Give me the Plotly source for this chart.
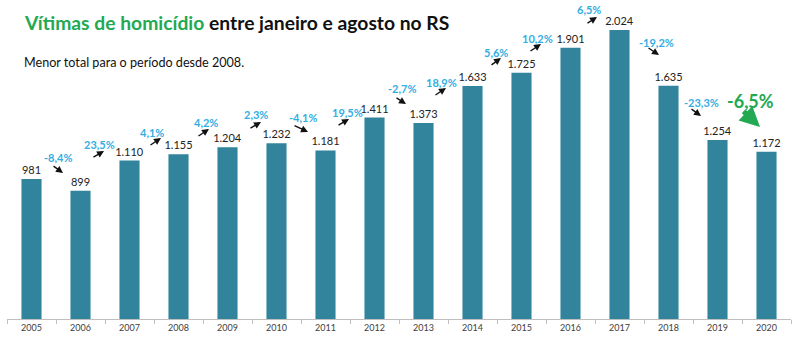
import plotly.graph_objects as go

# ---- data ----
years = [str(y) for y in range(2005, 2021)]
victims = [981, 899, 1110, 1155, 1204, 1232, 1181, 1411, 1373, 1633, 1725, 1901, 2024, 1635, 1254, 1172]

title_green = "Vítimas de homicídio"
title_rest = " entre janeiro e agosto no RS"
subtitle = "Menor total para o período desde 2008."

# year-over-year changes (computed from the values)
changes = [(victims[i + 1] / victims[i] - 1) * 100 for i in range(len(victims) - 1)]
change_labels = [f"{c:.1f}".replace(".", ",") + "%" for c in changes]

# ---- layout geometry (pixels in the 800x339 canvas) ----
W, H = 800, 339
ML, MR, MT, MB = 7, 9, 0, 20
YMAX = 2235
CAT_W = (W - ML - MR) / len(years)
PLOT_H = H - MT - MB

def px2x(px):
    return (px - ML) / CAT_W - 0.5

def py2y(py):
    return (PLOT_H - (py - MT)) / PLOT_H * YMAX

# label text centres and arrow tail/head positions (pixels)
label_pos = [(58, 157), (99, 144), (152, 132), (206, 122), (256, 114), (303, 117),
             (347, 112), (402, 88), (441, 82), (496, 52), (537, 38), (589, 9),
             (656, 42), (701, 102), (750, 101)]
arrow_pos = [((52, 165), (63, 173)), ((92, 158), (104, 151)), ((149, 146), (161, 138)),
             ((197, 137), (209, 129)), ((249, 129), (261, 122)), ((293, 125), (308, 132)),
             ((337, 126), (349, 119)), ((395, 97), (406, 104)), ((434, 96), (446, 88)),
             ((490, 66), (501, 58)), ((529, 52), (541, 44)), ((586, 24), (597, 17)),
             ((647, 47), (659, 55)), ((690, 108), (701, 116)), ((742, 110), (760, 127))]

BAR_COLOR = "#31849B"
GREEN = "#22A951"
BLUE = "#33AEE3"

fig = go.Figure()
fig.add_trace(go.Bar(
    x=years, y=victims,
    marker=dict(color=BAR_COLOR, line=dict(width=0)),
    text=victims, texttemplate="%{y:,}", textposition="outside",
    constraintext="none",
    textfont=dict(family="Lato", size=11, color="#222222"),
    cliponaxis=False,
    hoverinfo="skip",
))

annotations = []
annotations.append(dict(
    xref="paper", yref="paper", x=(22 - ML) / (W - ML - MR), y=(PLOT_H - 22) / PLOT_H,
    xanchor="left", yanchor="middle", showarrow=False,
    text=f"<b><span style='color:{GREEN}'>{title_green}</span>{title_rest}</b>",
    font=dict(family="Lato", size=19.3, color="#111111"),
))
annotations.append(dict(
    xref="paper", yref="paper", x=(22 - ML) / (W - ML - MR), y=(PLOT_H - 62) / PLOT_H,
    xanchor="left", yanchor="middle", showarrow=False,
    text=subtitle, font=dict(family="Lato", size=12.6, color="#111111"),
))

n = len(change_labels)
for i, (lab, (lx, ly), (tail, head)) in enumerate(zip(change_labels, label_pos, arrow_pos)):
    last = i == n - 1
    annotations.append(dict(
        x=px2x(lx), y=py2y(ly), xref="x", yref="y", showarrow=False,
        text=f"<b>{lab}</b>",
        font=dict(family="Lato", size=18 if last else 11, color=GREEN if last else BLUE),
        xanchor="center", yanchor="middle",
    ))
    annotations.append(dict(
        x=px2x(head[0]), y=py2y(head[1]), xref="x", yref="y",
        ax=tail[0] - head[0], ay=tail[1] - head[1], axref="pixel", ayref="pixel",
        text="", showarrow=True,
        arrowhead=2, arrowsize=0.8 if last else 1.0,
        arrowwidth=5 if last else 1.4,
        arrowcolor=GREEN if last else "#111111",
    ))

fig.update_layout(
    width=W, height=H,
    margin=dict(l=ML, r=MR, t=MT, b=MB, pad=0),
    paper_bgcolor="white", plot_bgcolor="white",
    separators=",.",
    bargap=0.59,
    showlegend=False,
    annotations=annotations,
    xaxis=dict(
        type="category", showgrid=False, zeroline=False,
        showline=True, linecolor="#BFBFBF", linewidth=1,
        ticks="outside", tickson="boundaries", ticklen=4, tickcolor="#BFBFBF",
        tickfont=dict(family="Lato", size=9, color="#404040"),
        fixedrange=True,
    ),
    yaxis=dict(range=[0, YMAX], visible=False, fixedrange=True),
)

fig.write_html("out.html", config={"displayModeBar": False})
